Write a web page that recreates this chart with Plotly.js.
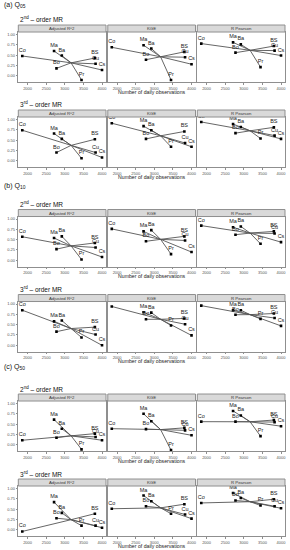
<!DOCTYPE html>
<html><head><meta charset="utf-8">
<script src="https://cdn.plot.ly/plotly-3.0.1.min.js"></script>
<style>html,body{margin:0;padding:0;background:#fff}#chart{width:290px;height:550px}</style>
</head><body><div id="chart"></div>
<script>
// Stations and their number of daily observations
const stations = ['Co','Ma','Ba','Bo','Pr','BS','Cu','Cs'];
const dailyObs = [1857,2711,2919,2776,3449,3808,3827,4000];
const metrics = ['Adjusted R^2','KGE','R Pearson'];
const sectionTitles = ['(a) Q<sub>05</sub>','(b) Q<sub>10</sub>','(c) Q<sub>50</sub>'];
const orderTitles = ['2<sup>nd</sup> – order MR','3<sup>rd</sup> – order MR'];
const xTicks = [2000,2500,3000,3500,4000];
const yTicks = [0,0.25,0.5,0.75,1];
const xTitle = 'Number of daily observations';

// values in station order: Co, Ma, Ba, Bo, Pr, BS, Cu, Cs
const q05_mr2_adjR2 = [0.48,0.60,0.49,0.18,-0.10,0.43,0.29,0.14];
const q05_mr2_kge   = [0.69,0.74,0.66,0.39,-0.10,0.58,0.45,0.28];
const q05_mr2_r     = [0.78,0.81,0.76,0.56,0.21,0.72,0.61,0.49];
const q05_mr3_adjR2 = [0.74,0.66,0.53,0.20,0.06,0.52,0.20,0.08];
const q05_mr3_kge   = [0.91,0.84,0.74,0.53,0.34,0.71,0.43,0.34];
const q05_mr3_r     = [0.94,0.89,0.82,0.67,0.54,0.81,0.61,0.53];
const q10_mr2_adjR2 = [0.57,0.54,0.58,0.27,0.02,0.42,0.31,0.08];
const q10_mr2_kge   = [0.76,0.70,0.73,0.46,0.15,0.58,0.48,0.20];
const q10_mr2_r     = [0.84,0.80,0.82,0.62,0.40,0.70,0.65,0.44];
const q10_mr3_adjR2 = [0.85,0.58,0.60,0.33,0.19,0.44,0.26,0.00];
const q10_mr3_kge   = [0.94,0.80,0.79,0.63,0.48,0.65,0.51,0.24];
const q10_mr3_r     = [0.96,0.85,0.85,0.74,0.64,0.77,0.66,0.47];
const q50_mr2_adjR2 = [0.11,0.61,0.39,0.17,-0.11,0.27,0.19,0.11];
const q50_mr2_kge   = [0.39,0.75,0.57,0.38,-0.13,0.41,0.35,0.23];
const q50_mr2_r     = [0.56,0.82,0.71,0.56,0.21,0.60,0.55,0.45];
const q50_mr3_adjR2 = [-0.04,0.67,0.41,0.28,0.10,0.39,0.10,0.05];
const q50_mr3_kge   = [0.51,0.83,0.69,0.57,0.39,0.62,0.37,0.27];
const q50_mr3_r     = [0.65,0.89,0.77,0.71,0.59,0.74,0.57,0.52];

const groups = [
  [q05_mr2_adjR2,q05_mr2_kge,q05_mr2_r],
  [q05_mr3_adjR2,q05_mr3_kge,q05_mr3_r],
  [q10_mr2_adjR2,q10_mr2_kge,q10_mr2_r],
  [q10_mr3_adjR2,q10_mr3_kge,q10_mr3_r],
  [q50_mr2_adjR2,q50_mr2_kge,q50_mr2_r],
  [q50_mr3_adjR2,q50_mr3_kge,q50_mr3_r]
];

// ---- layout geometry (page pixels) ----
const W = 290, H = 550;
const FONT = 'Liberation Sans, Arial, Helvetica, sans-serif';
const tickOneY = [34.5,119.5,219,304,403.5,488.5];
const unitPx = 41.3;
const yRange = [-0.16,1.06];
const xRange = [1750,4107];
const cols = [[18.3,106],[107.8,195.5],[197.3,285]];
const stripH = 7;
const sectionY = [5,186,367];
const px = v => v / W;
const py = v => 1 - v / H;

const data = [];
const layout = {
  width: W, height: H, autosize: false,
  margin: {l:0,r:0,t:0,b:0},
  paper_bgcolor: '#fff', plot_bgcolor: '#fff',
  showlegend: false,
  font: {family: FONT},
  shapes: [], annotations: []
};

let idx = 0;
groups.forEach((grp, g) => {
  const top = tickOneY[g] - (yRange[1]-1)*unitPx;
  const bottom = tickOneY[g] + (1 - yRange[0])*unitPx;
  grp.forEach((vals, c) => {
    idx++;
    const xa = 'x' + (idx === 1 ? '' : idx);
    const ya = 'y' + (idx === 1 ? '' : idx);
    const xk = 'xaxis' + (idx === 1 ? '' : idx);
    const yk = 'yaxis' + (idx === 1 ? '' : idx);
    const cx = dailyObs.reduce((a,b)=>a+b,0)/dailyObs.length;
    const cy = vals.reduce((a,b)=>a+b,0)/vals.length;
    const lx = [], ly = [];
    dailyObs.forEach((xv,i) => { lx.push(xv, cx, null); ly.push(vals[i], cy, null); });
    data.push({x: lx, y: ly, xaxis: xa, yaxis: ya, mode: 'lines', type: 'scatter',
      line: {color: '#555555', width: 0.9}, hoverinfo: 'skip'});
    data.push({x: dailyObs, y: vals, text: stations, xaxis: xa, yaxis: ya,
      mode: 'markers+text', type: 'scatter', textposition: 'top center',
      textfont: {size: 5.5, color: '#222', family: FONT},
      marker: {symbol: 'square', size: 2.6, color: '#000'}});
    layout[xk] = {domain: [px(cols[c][0]), px(cols[c][1])], anchor: ya, range: xRange,
      tickvals: xTicks, ticks: 'outside', ticklen: 1.5, tickwidth: 0.6, tickcolor: '#444',
      tickfont: {size: 4, color: '#555', family: FONT},
      showgrid: false, zeroline: false, showline: true, mirror: true,
      linecolor: '#8f8f8f', linewidth: 1, fixedrange: true};
    layout[yk] = {domain: [py(bottom), py(top)], anchor: xa, range: yRange,
      tickvals: yTicks, tickformat: '.2f',
      ticks: c === 0 ? 'outside' : '', ticklen: 1.5, tickwidth: 0.6, tickcolor: '#444',
      showticklabels: c === 0,
      tickfont: {size: 4, color: '#555', family: FONT},
      showgrid: false, zeroline: false, showline: true, mirror: true,
      linecolor: '#8f8f8f', linewidth: 1, fixedrange: true};
    // strip
    layout.shapes.push({type: 'rect', xref: 'paper', yref: 'paper',
      x0: px(cols[c][0]), x1: px(cols[c][1]), y0: py(top), y1: py(top - stripH),
      fillcolor: '#d9d9d9', line: {color: '#8f8f8f', width: 1}});
    layout.annotations.push({xref: 'paper', yref: 'paper',
      x: px((cols[c][0]+cols[c][1])/2), y: py(top - stripH/2),
      text: metrics[c], showarrow: false, xanchor: 'center', yanchor: 'middle',
      font: {size: 4.3, color: '#333', family: FONT}});
  });
  // x axis title
  layout.annotations.push({xref: 'paper', yref: 'paper',
    x: px((cols[1][0]+cols[1][1])/2), y: py(bottom + 9.5),
    text: xTitle, showarrow: false, xanchor: 'center', yanchor: 'middle',
    font: {size: 5.2, color: '#222', family: FONT}});
  // order subtitle
  layout.annotations.push({xref: 'paper', yref: 'paper',
    x: px(18), y: py(tickOneY[g] - 15),
    text: orderTitles[g % 2], showarrow: false, xanchor: 'left', yanchor: 'middle',
    font: {size: 6.5, color: '#111', family: FONT}});
  if (g % 2 === 0) {
    layout.annotations.push({xref: 'paper', yref: 'paper',
      x: px(2), y: py(sectionY[g/2]),
      text: sectionTitles[g/2], showarrow: false, xanchor: 'left', yanchor: 'middle',
      font: {size: 7, color: '#111', family: FONT}});
  }
});

Plotly.newPlot('chart', data, layout, {displayModeBar: false, staticPlot: true});
</script>
</body></html>
